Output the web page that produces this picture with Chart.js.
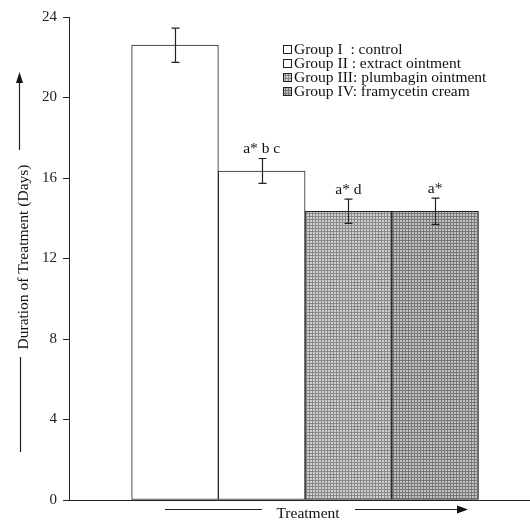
<!DOCTYPE html>
<html><head><meta charset="utf-8">
<script src="https://cdn.jsdelivr.net/npm/chart.js@4.4.1/dist/chart.umd.min.js"></script>
<style>html,body{margin:0;padding:0;background:#fff;} canvas{display:block;}</style>
</head><body>
<canvas id="c" width="530" height="522"></canvas>
<script>
const groups = ['Group I  : control', 'Group II : extract ointment', 'Group III: plumbagin ointment', 'Group IV: framycetin cream'];
const meanDays = [22.6, 16.35, 14.35, 14.35];
const semDays = [0.85, 0.62, 0.6, 0.65];
const sigLabels = ['', 'a* b c', 'a* d', 'a*'];
const yTicks = [0, 4, 8, 12, 16, 20, 24];
const yTitle = 'Duration of Treatment (Days)';
const xTitle = 'Treatment';

const SERIF = '"Liberation Serif", "DejaVu Serif", serif';
const canvas = document.getElementById('c');
const ctx = canvas.getContext('2d');

function makePattern(dark, light) {
  const c = document.createElement('canvas'); c.width = 3; c.height = 3;
  const g = c.getContext('2d');
  g.fillStyle = light; g.fillRect(0, 0, 3, 3);
  g.fillStyle = dark; g.fillRect(0, 0, 3, 1); g.fillRect(0, 0, 1, 3);
  return ctx.createPattern(c, 'repeat');
}
const fills = ['#ffffff', '#ffffff', makePattern('#888888', '#d0d0d0'), makePattern('#787878', '#c2c2c2')];

const extras = {
  id: 'extras',
  afterDatasetsDraw(chart) {
    const c = chart.ctx, ys = chart.scales.y, meta = chart.getDatasetMeta(0);
    c.save();
    c.strokeStyle = '#222'; c.lineWidth = 1.2;
    c.fillStyle = '#111';
    c.font = '15.5px ' + SERIF; c.textAlign = 'center'; c.textBaseline = 'alphabetic';
    meta.data.forEach((bar, i) => {
      const x = Math.round(bar.x) + 0.5;
      const top = ys.getPixelForValue(meanDays[i] + semDays[i]);
      const bot = ys.getPixelForValue(meanDays[i] - semDays[i]);
      c.beginPath();
      c.moveTo(x, top); c.lineTo(x, bot);
      c.moveTo(x - 4, top); c.lineTo(x + 4, top);
      c.moveTo(x - 4, bot); c.lineTo(x + 4, bot);
      c.stroke();
      if (sigLabels[i]) c.fillText(sigLabels[i], bar.x, top - 5);
    });
    c.restore();
  },
  afterDraw(chart) {
    const c = chart.ctx;
    c.save();
    // legend
    c.font = '15.5px ' + SERIF; c.textAlign = 'left'; c.textBaseline = 'middle'; c.fillStyle = '#111';
    groups.forEach((g, i) => {
      const cy = 49 + i * 14;
      c.fillStyle = fills[i];
      c.fillRect(283, cy - 4, 8, 8);
      c.strokeStyle = '#222'; c.lineWidth = 1;
      c.strokeRect(283.5, cy - 3.5, 8, 8);
      c.fillStyle = '#111';
      c.fillText(g, 294, cy + 1);
    });
    // y title with arrow
    c.save();
    c.translate(24, 257);
    c.rotate(-Math.PI / 2);
    c.textAlign = 'center'; c.textBaseline = 'middle';
    c.fillText(yTitle, 0, 0);
    c.restore();
    c.strokeStyle = '#222'; c.lineWidth = 1.2;
    c.beginPath();
    c.moveTo(19.5, 150); c.lineTo(19.5, 80);
    c.moveTo(20.5, 357); c.lineTo(20.5, 452);
    c.stroke();
    c.beginPath();
    c.moveTo(19.5, 72); c.lineTo(16, 83); c.lineTo(23, 83); c.closePath(); c.fill();
    // x title with arrow
    c.textAlign = 'center'; c.textBaseline = 'middle';
    c.fillText(xTitle, 308, 514);
    c.beginPath();
    c.moveTo(165, 509.5); c.lineTo(262, 509.5);
    c.moveTo(355, 509.5); c.lineTo(458, 509.5);
    c.stroke();
    c.beginPath();
    c.moveTo(468, 509.5); c.lineTo(457, 505.5); c.lineTo(457, 513.5); c.closePath(); c.fill();
    c.restore();
  }
};

new Chart(ctx, {
  type: 'bar',
  data: {
    datasets: [{
      data: meanDays.map((v, i) => ({ x: i + 1, y: v })),
      backgroundColor: fills,
      borderColor: '#222',
      borderWidth: 1,
      borderSkipped: false,
      categoryPercentage: 1,
      barPercentage: 1
    }]
  },
  options: {
    responsive: false, animation: false, devicePixelRatio: 1,
    layout: { padding: { top: 17, right: 0, bottom: 22, left: 0 } },
    plugins: { legend: { display: false }, tooltip: { enabled: false } },
    scales: {
      x: {
        type: 'linear', min: -0.2226, max: 5.094, offset: false,
        ticks: { display: false },
        grid: { display: false, drawTicks: false },
        border: { display: true, color: '#222', width: 1 },
        afterFit: s => { s.height = 0; }
      },
      y: {
        min: 0, max: 24,
        afterBuildTicks: s => { s.ticks = yTicks.map(v => ({ value: v })); },
        ticks: { font: { family: SERIF, size: 15 }, color: '#222', padding: 6 },
        grid: { drawOnChartArea: false, drawTicks: true, tickLength: 6, color: '#222', tickColor: '#222' },
        border: { color: '#222', width: 1 },
        afterFit: s => { s.width = 69; }
      }
    }
  },
  plugins: [extras]
});
</script>
</body></html>
